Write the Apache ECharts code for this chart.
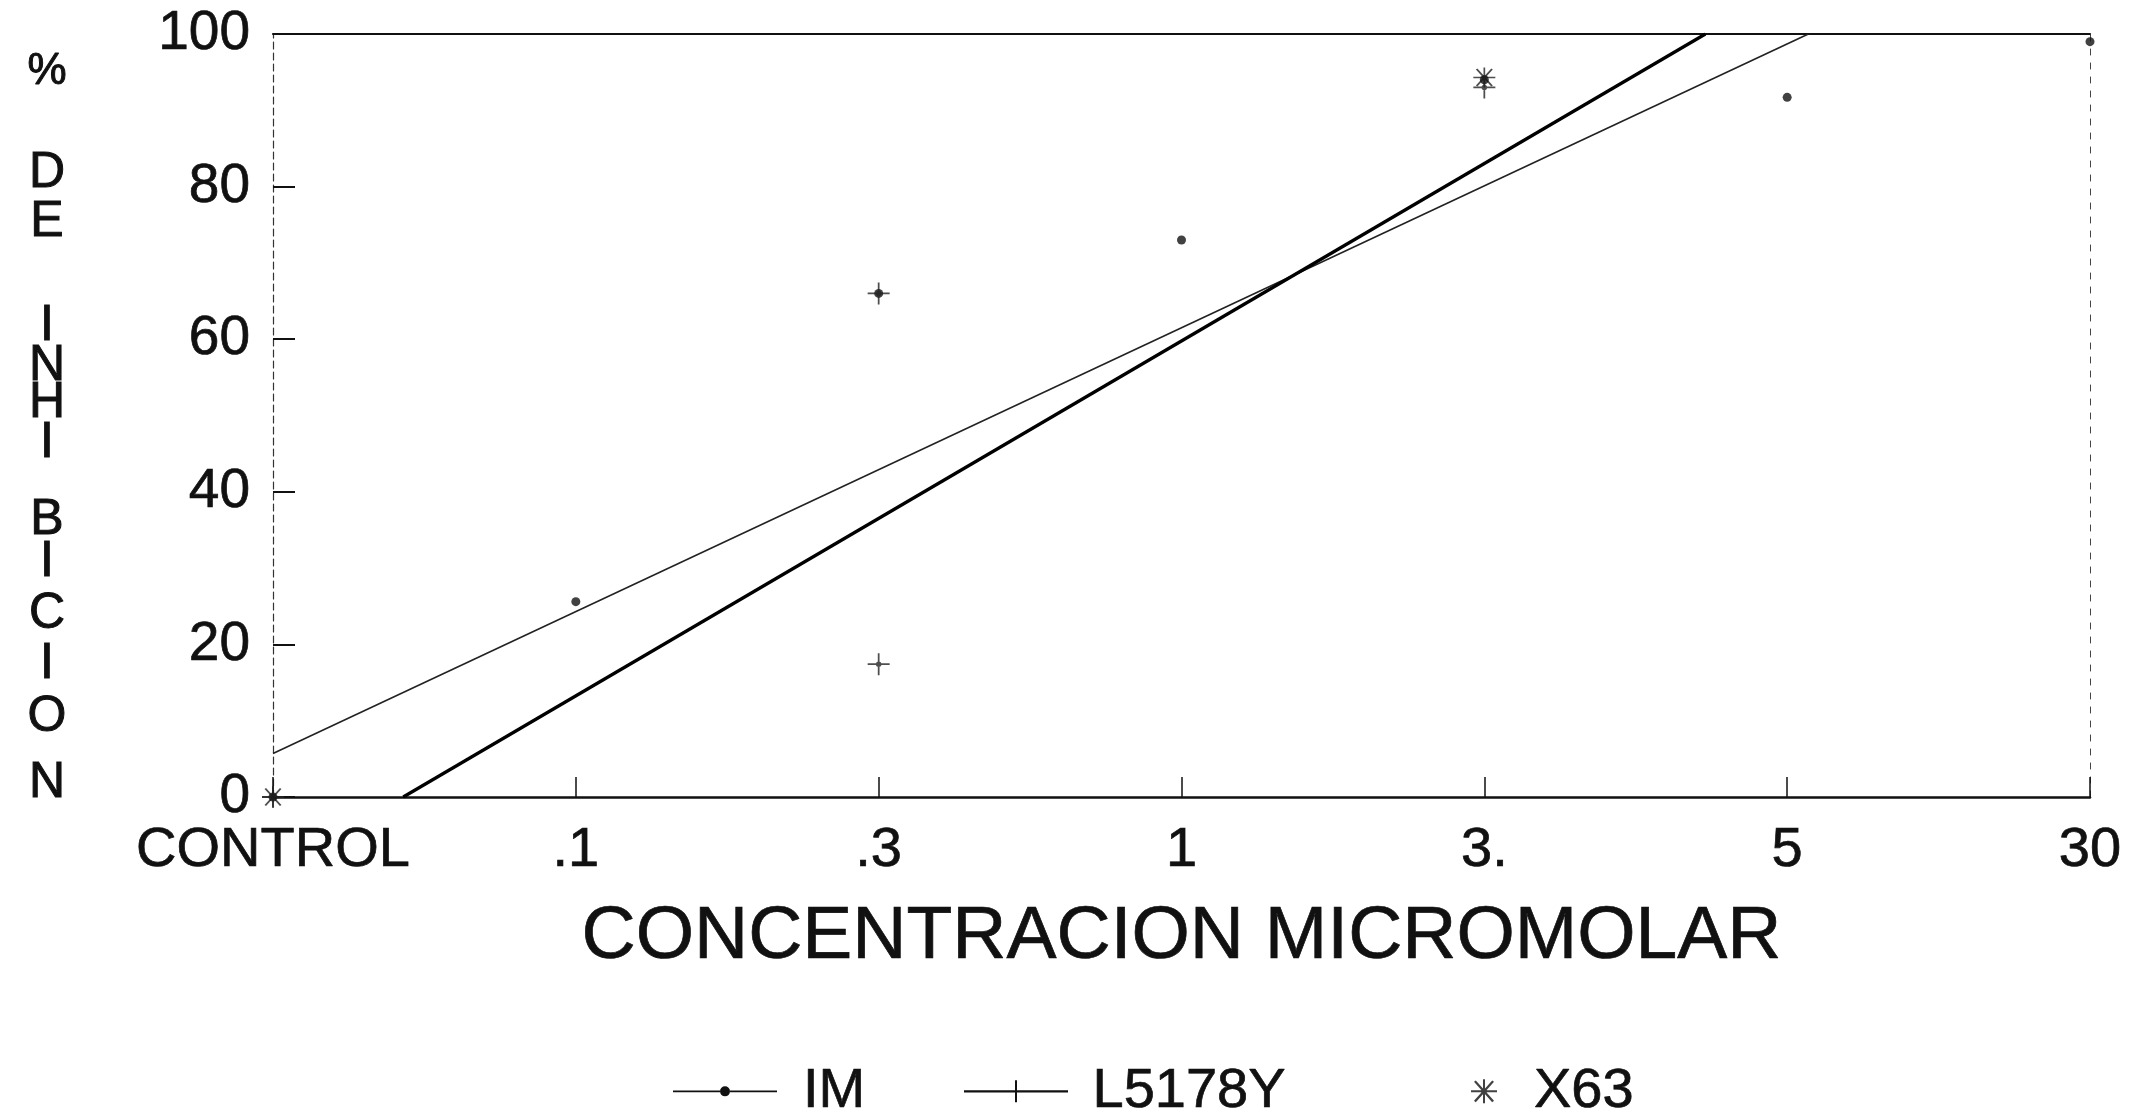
<!DOCTYPE html>
<html><head><meta charset="utf-8">
<script src="https://cdn.jsdelivr.net/npm/echarts@6/dist/echarts.min.js"></script>
<style>html,body{margin:0;padding:0;background:#fff}#c{width:2137px;height:1116px}</style>
</head><body><div id="c"></div>
<script>
// ---- data ----
const xTickLabels = ['CONTROL', '.1', '.3', '1', '3.', '5', '30'];
const yMin = 0, yMax = 100, yStep = 20;
// measured points  [category index, % inhibition]
const imPoints     = [[0, 0], [1, 25.6], [2, 66], [3, 73], [4, 94], [5, 91.7], [6, 99]];
const l5178yPoints = [[0, 0], [2, 17.4], [2, 66], [4, 93]];
const x63Points    = [[0, 0], [4, 94.3]];
// fitted straight lines (end points as they appear, clipped to the frame)
const imFit     = [[0, 5.7], [5.07, 100]];
const l5178yFit = [[0.43, 0], [4.73, 100]];
const seriesNames = ['IM', 'L5178Y', 'X63'];
const yTitleLetters = ['%', 'D', 'E', 'I', 'N', 'H', 'I', 'B', 'I', 'C', 'I', 'O', 'N'];

// ---- styling ----
const FONT = '"Liberation Sans", Arial, Helvetica, sans-serif';
const INK = '#111';
const letterY = [72, 173, 222, 326, 366, 403, 443, 520, 562, 614, 664, 717, 783];

const imIcon = 'path://M0,4.2L47,4.2L47,5.8L0,5.8Z M57,4.2L104,4.2L104,5.8L57,5.8Z M47,5A5,5 0 1,1 57,5A5,5 0 1,1 47,5Z';
const lIcon  = 'path://M0,9.8L51,9.8L51,12.2L0,12.2Z M53,9.8L104,9.8L104,12.2L53,12.2Z M51,0L53,0L53,22L51,22Z';
const starIcon = 'path://M0,11L26,11L26,13L0,13Z M12,0L14,0L14,24L12,24Z M3,2.5L4.8,1.2L23,21.5L21.2,22.8Z M21.2,1.2L23,2.5L4.8,22.8L3,21.5Z M10,12A3,3 0 1,1 16,12A3,3 0 1,1 10,12Z';
const plusSym = 'path://M0,9.2L20,9.2L20,10.8L0,10.8Z M9.2,0L10.8,0L10.8,20L9.2,20Z M7.5,10A2.5,2.5 0 1,1 12.5,10A2.5,2.5 0 1,1 7.5,10Z';

const chart = echarts.init(document.getElementById('c'), null, {renderer: 'canvas'});

const bold = {textBorderColor: INK, textBorderWidth: 0.7};
const legendBase = {
  orient: 'horizontal', top: 1058, itemGap: 0,
  itemStyle: {color: INK, borderWidth: 0},
  textStyle: Object.assign({fontFamily: FONT, fontSize: 56, color: INK}, bold),
  selectedMode: false
};

chart.setOption({
  animation: false,
  backgroundColor: '#fff',
  grid: {left: 273, right: 47, top: 34, bottom: 319, containLabel: false},
  xAxis: [{
    type: 'value', min: 0, max: xTickLabels.length - 1, interval: 1, position: 'bottom',
    axisLine: {onZero: false, lineStyle: {color: INK, width: 2.5}},
    axisTick: {inside: true, length: 20, lineStyle: {color: INK, width: 1.5}},
    axisLabel: Object.assign({formatter: v => xTickLabels[v] || '', fontFamily: FONT, fontSize: 56, color: INK, margin: 26}, bold),
    splitLine: {show: false},
    name: 'CONCENTRACION MICROMOLAR', nameLocation: 'middle', nameGap: 103,
    nameTextStyle: Object.assign({fontFamily: FONT, fontSize: 75, color: INK}, bold)
  }, {
    type: 'value', min: 0, max: xTickLabels.length - 1, position: 'top',
    axisLine: {onZero: false, lineStyle: {color: INK, width: 2.2}},
    axisTick: {show: false}, axisLabel: {show: false}, splitLine: {show: false}
  }],
  yAxis: [{
    type: 'value', min: yMin, max: yMax, interval: yStep, position: 'left',
    axisLine: {show: true, onZero: false, lineStyle: {color: '#333', width: 1.2, type: [7, 4]}},
    axisTick: {show: true, inside: true, length: 22, lineStyle: {color: INK, width: 2}},
    axisLabel: Object.assign({fontFamily: FONT, fontSize: 55, color: INK, margin: 23}, bold),
    splitLine: {show: false}
  }, {
    type: 'value', min: yMin, max: yMax, position: 'right',
    axisLine: {show: true, onZero: false, lineStyle: {color: '#444', width: 1, type: [6, 8]}},
    axisTick: {show: false}, axisLabel: {show: false}, splitLine: {show: false}
  }],
  legend: [
    Object.assign({}, legendBase, {left: 668, itemWidth: 104, itemHeight: 10,
      data: [{name: seriesNames[0], icon: imIcon}],
      textStyle: Object.assign({}, legendBase.textStyle, {padding: [0, 0, 0, 21]})}),
    Object.assign({}, legendBase, {left: 959, itemWidth: 107, itemHeight: 22,
      data: [{name: seriesNames[1], icon: lIcon}],
      textStyle: Object.assign({}, legendBase.textStyle, {padding: [0, 0, 0, 18]})}),
    Object.assign({}, legendBase, {left: 1466, itemWidth: 26, itemHeight: 24,
      data: [{name: seriesNames[2], icon: starIcon}],
      textStyle: Object.assign({}, legendBase.textStyle, {padding: [0, 0, 0, 32]})})
  ],
  graphic: yTitleLetters.map((ch, i) => ({
    type: 'text', x: 47, y: letterY[i],
    style: {text: ch, font: (i === 0 ? '44px ' : '50px ') + FONT, fill: INK, stroke: INK, lineWidth: 1,
            textAlign: 'center', textVerticalAlign: 'middle'}
  })),
  series: [
    {name: seriesNames[0], type: 'line', data: imFit, showSymbol: false, symbol: 'none',
     lineStyle: {color: '#222', width: 1.6}, itemStyle: {color: INK}, clip: true, z: 3},
    {name: seriesNames[1], type: 'line', data: l5178yFit, showSymbol: false, symbol: 'none',
     lineStyle: {color: '#000', width: 3.2}, itemStyle: {color: INK}, clip: true, z: 3},
    {name: seriesNames[0], type: 'scatter', data: imPoints, symbol: 'circle', symbolSize: 9,
     itemStyle: {color: INK}, z: 5, clip: false},
    {name: seriesNames[1], type: 'scatter', data: l5178yPoints, symbol: plusSym, symbolSize: 22,
     itemStyle: {color: '#222'}, z: 5, clip: false},
    {name: seriesNames[2], type: 'scatter', data: x63Points, symbol: starIcon, symbolSize: [22, 20],
     itemStyle: {color: '#222'}, z: 4, clip: false}
  ]
});
</script>
</body></html>
